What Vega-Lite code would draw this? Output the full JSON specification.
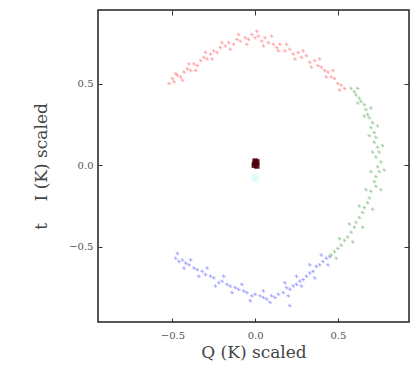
{
  "$schema": "https://vega.github.io/schema/vega-lite/v6.json",
  "width": 311,
  "height": 312,
  "autosize": "none",
  "padding": {"left": 98, "top": 10, "right": 7, "bottom": 48},
  "background": "white",
  "config": {
    "view": {"stroke": "#222", "strokeWidth": 1.5},
    "axis": {"labelFont": "DejaVu Serif", "titleFont": "DejaVu Serif", "labelColor": "#555", "titleColor": "#444", "grid": false, "domain": false, "tickColor": "#333", "tickSize": -4, "tickWidth": 1, "labelFontSize": 10, "titleFontSize": 17, "titleFontWeight": "normal"}
  },
  "datasets": {
    "pts": [
      {"s":"red","q":-0.52,"i":0.50},{"s":"red","q":-0.50,"i":0.53},{"s":"red","q":-0.49,"i":0.51},{"s":"red","q":-0.47,"i":0.55},{"s":"red","q":-0.45,"i":0.54},{"s":"red","q":-0.43,"i":0.57},{"s":"red","q":-0.41,"i":0.59},{"s":"red","q":-0.39,"i":0.58},{"s":"red","q":-0.37,"i":0.62},{"s":"red","q":-0.35,"i":0.61},{"s":"red","q":-0.33,"i":0.64},{"s":"red","q":-0.31,"i":0.66},{"s":"red","q":-0.29,"i":0.65},{"s":"red","q":-0.27,"i":0.68},{"s":"red","q":-0.25,"i":0.70},{"s":"red","q":-0.23,"i":0.69},{"s":"red","q":-0.21,"i":0.72},{"s":"red","q":-0.18,"i":0.73},{"s":"red","q":-0.16,"i":0.75},{"s":"red","q":-0.13,"i":0.74},{"s":"red","q":-0.11,"i":0.77},{"s":"red","q":-0.09,"i":0.76},{"s":"red","q":-0.06,"i":0.78},{"s":"red","q":-0.04,"i":0.77},{"s":"red","q":-0.02,"i":0.80},{"s":"red","q":0.00,"i":0.78},{"s":"red","q":0.02,"i":0.79},{"s":"red","q":0.04,"i":0.76},{"s":"red","q":0.06,"i":0.78},{"s":"red","q":0.08,"i":0.75},{"s":"red","q":0.11,"i":0.74},{"s":"red","q":0.13,"i":0.72},{"s":"red","q":0.15,"i":0.74},{"s":"red","q":0.18,"i":0.70},{"s":"red","q":0.21,"i":0.71},{"s":"red","q":0.23,"i":0.68},{"s":"red","q":0.26,"i":0.69},{"s":"red","q":0.28,"i":0.66},{"s":"red","q":0.31,"i":0.67},{"s":"red","q":0.33,"i":0.63},{"s":"red","q":0.36,"i":0.64},{"s":"red","q":0.38,"i":0.61},{"s":"red","q":0.40,"i":0.60},{"s":"red","q":0.42,"i":0.58},{"s":"red","q":0.44,"i":0.57},{"s":"red","q":0.46,"i":0.54},{"s":"red","q":0.48,"i":0.53},{"s":"red","q":0.50,"i":0.50},{"s":"red","q":0.52,"i":0.49},{"s":"red","q":0.54,"i":0.47},
      {"s":"red","q":-0.48,"i":0.56},{"s":"red","q":-0.44,"i":0.52},{"s":"red","q":-0.40,"i":0.62},{"s":"red","q":-0.36,"i":0.58},{"s":"red","q":-0.30,"i":0.69},{"s":"red","q":-0.26,"i":0.65},{"s":"red","q":-0.20,"i":0.75},{"s":"red","q":-0.15,"i":0.71},{"s":"red","q":-0.10,"i":0.80},{"s":"red","q":-0.05,"i":0.74},{"s":"red","q":0.01,"i":0.82},{"s":"red","q":0.05,"i":0.73},{"s":"red","q":0.10,"i":0.79},{"s":"red","q":0.14,"i":0.70},{"s":"red","q":0.19,"i":0.74},{"s":"red","q":0.24,"i":0.65},{"s":"red","q":0.29,"i":0.70},{"s":"red","q":0.34,"i":0.60},{"s":"red","q":0.39,"i":0.65},{"s":"red","q":0.43,"i":0.54},{"s":"red","q":0.47,"i":0.58},{"s":"red","q":0.51,"i":0.46},
      {"s":"green","q":0.58,"i":0.47},{"s":"green","q":0.60,"i":0.45},{"s":"green","q":0.61,"i":0.43},{"s":"green","q":0.63,"i":0.41},{"s":"green","q":0.64,"i":0.39},{"s":"green","q":0.66,"i":0.37},{"s":"green","q":0.67,"i":0.34},{"s":"green","q":0.68,"i":0.31},{"s":"green","q":0.69,"i":0.29},{"s":"green","q":0.71,"i":0.26},{"s":"green","q":0.70,"i":0.23},{"s":"green","q":0.72,"i":0.20},{"s":"green","q":0.73,"i":0.17},{"s":"green","q":0.72,"i":0.14},{"s":"green","q":0.74,"i":0.11},{"s":"green","q":0.75,"i":0.08},{"s":"green","q":0.73,"i":0.05},{"s":"green","q":0.76,"i":0.02},{"s":"green","q":0.74,"i":-0.01},{"s":"green","q":0.75,"i":-0.04},{"s":"green","q":0.73,"i":-0.07},{"s":"green","q":0.72,"i":-0.10},{"s":"green","q":0.73,"i":-0.13},{"s":"green","q":0.70,"i":-0.16},{"s":"green","q":0.69,"i":-0.20},{"s":"green","q":0.68,"i":-0.23},{"s":"green","q":0.66,"i":-0.26},{"s":"green","q":0.65,"i":-0.29},{"s":"green","q":0.63,"i":-0.32},{"s":"green","q":0.61,"i":-0.35},{"s":"green","q":0.60,"i":-0.38},{"s":"green","q":0.58,"i":-0.41},{"s":"green","q":0.56,"i":-0.44},{"s":"green","q":0.54,"i":-0.46},{"s":"green","q":0.52,"i":-0.49},{"s":"green","q":0.50,"i":-0.51},{"s":"green","q":0.48,"i":-0.53},{"s":"green","q":0.46,"i":-0.55},
      {"s":"green","q":0.62,"i":0.47},{"s":"green","q":0.62,"i":0.38},{"s":"green","q":0.70,"i":0.35},{"s":"green","q":0.66,"i":0.30},{"s":"green","q":0.74,"i":0.24},{"s":"green","q":0.69,"i":0.18},{"s":"green","q":0.77,"i":0.12},{"s":"green","q":0.71,"i":0.08},{"s":"green","q":0.78,"i":-0.03},{"s":"green","q":0.70,"i":-0.04},{"s":"green","q":0.76,"i":-0.15},{"s":"green","q":0.67,"i":-0.15},{"s":"green","q":0.71,"i":-0.27},{"s":"green","q":0.63,"i":-0.25},{"s":"green","q":0.65,"i":-0.38},{"s":"green","q":0.57,"i":-0.36},{"s":"green","q":0.59,"i":-0.47},{"s":"green","q":0.51,"i":-0.45},{"s":"green","q":0.49,"i":-0.57},
      {"s":"blue","q":0.45,"i":-0.56},{"s":"blue","q":0.43,"i":-0.57},{"s":"blue","q":0.41,"i":-0.59},{"s":"blue","q":0.39,"i":-0.61},{"s":"blue","q":0.37,"i":-0.62},{"s":"blue","q":0.35,"i":-0.65},{"s":"blue","q":0.33,"i":-0.66},{"s":"blue","q":0.31,"i":-0.68},{"s":"blue","q":0.29,"i":-0.70},{"s":"blue","q":0.27,"i":-0.71},{"s":"blue","q":0.25,"i":-0.73},{"s":"blue","q":0.23,"i":-0.74},{"s":"blue","q":0.21,"i":-0.76},{"s":"blue","q":0.19,"i":-0.75},{"s":"blue","q":0.17,"i":-0.78},{"s":"blue","q":0.14,"i":-0.79},{"s":"blue","q":0.12,"i":-0.81},{"s":"blue","q":0.10,"i":-0.80},{"s":"blue","q":0.07,"i":-0.82},{"s":"blue","q":0.05,"i":-0.81},{"s":"blue","q":0.03,"i":-0.80},{"s":"blue","q":0.00,"i":-0.79},{"s":"blue","q":-0.02,"i":-0.80},{"s":"blue","q":-0.05,"i":-0.78},{"s":"blue","q":-0.07,"i":-0.77},{"s":"blue","q":-0.10,"i":-0.76},{"s":"blue","q":-0.12,"i":-0.75},{"s":"blue","q":-0.15,"i":-0.74},{"s":"blue","q":-0.17,"i":-0.73},{"s":"blue","q":-0.20,"i":-0.71},{"s":"blue","q":-0.22,"i":-0.72},{"s":"blue","q":-0.25,"i":-0.69},{"s":"blue","q":-0.27,"i":-0.68},{"s":"blue","q":-0.30,"i":-0.67},{"s":"blue","q":-0.32,"i":-0.65},{"s":"blue","q":-0.35,"i":-0.64},{"s":"blue","q":-0.37,"i":-0.63},{"s":"blue","q":-0.40,"i":-0.61},{"s":"blue","q":-0.42,"i":-0.60},{"s":"blue","q":-0.44,"i":-0.58},{"s":"blue","q":-0.46,"i":-0.59},{"s":"blue","q":-0.48,"i":-0.57},
      {"s":"blue","q":0.44,"i":-0.61},{"s":"blue","q":0.40,"i":-0.55},{"s":"blue","q":0.36,"i":-0.69},{"s":"blue","q":0.33,"i":-0.61},{"s":"blue","q":0.28,"i":-0.74},{"s":"blue","q":0.25,"i":-0.68},{"s":"blue","q":0.20,"i":-0.80},{"s":"blue","q":0.18,"i":-0.72},{"s":"blue","q":0.21,"i":-0.86},{"s":"blue","q":0.09,"i":-0.84},{"s":"blue","q":0.05,"i":-0.77},{"s":"blue","q":-0.03,"i":-0.83},{"s":"blue","q":-0.08,"i":-0.73},{"s":"blue","q":-0.14,"i":-0.78},{"s":"blue","q":-0.19,"i":-0.68},{"s":"blue","q":-0.24,"i":-0.74},{"s":"blue","q":-0.29,"i":-0.63},{"s":"blue","q":-0.34,"i":-0.68},{"s":"blue","q":-0.39,"i":-0.58},{"s":"blue","q":-0.43,"i":-0.63},{"s":"blue","q":-0.47,"i":-0.54}
    ],
    "center": [
      {"q":0.0,"i":0.01},{"q":0.01,"i":0.02},{"q":-0.005,"i":0.0},{"q":0.01,"i":-0.005},{"q":0.0,"i":0.025}
    ],
    "halo": [
      {"q":0.0,"i":-0.07},{"q":0.01,"i":-0.09},{"q":-0.01,"i":-0.08}
    ]
  },
  "layer": [
    {
      "data": {"name": "pts"},
      "mark": {"type": "point", "shape": "M-1,0L1,0M0,-1L0,1M-0.7,-0.7L0.7,0.7", "filled": false, "strokeWidth": 0.6, "size": 14, "opacity": 0.5},
      "encoding": {
        "x": {"field": "q", "type": "quantitative", "scale": {"domain": [-0.95, 0.93], "nice": false, "zero": false},
              "axis": {"values": [-0.5, 0, 0.5], "format": ".1f", "title": "Q (K) scaled", "labelPadding": 12, "titlePadding": 4}},
        "y": {"field": "i", "type": "quantitative", "scale": {"domain": [-0.96, 0.95], "nice": false, "zero": false},
              "axis": {"values": [-0.5, 0, 0.5], "format": ".1f", "title": "t\u00a0\u00a0\u00a0\u00a0I (K) scaled", "labelPadding": 9, "titlePadding": 18}},
        "color": {"field": "s", "type": "nominal", "scale": {"domain": ["red", "green", "blue"], "range": ["#ff2020", "#1a8a1a", "#2020ff"]}, "legend": null}
      }
    },
    {
      "data": {"name": "halo"},
      "mark": {"type": "circle", "size": 50, "color": "#bff4f4", "opacity": 0.25},
      "encoding": {
        "x": {"field": "q", "type": "quantitative", "axis": {"orient": "top", "values": [-0.5, 0, 0.5], "labels": false, "title": null, "tickSize": -5}},
        "y": {"field": "i", "type": "quantitative", "axis": {"orient": "right", "values": [-0.5, 0, 0.5], "labels": false, "title": null, "tickSize": -5}}
      }
    },
    {
      "data": {"name": "center"},
      "mark": {"type": "square", "size": 30, "color": "#4a0010", "opacity": 0.9},
      "encoding": {
        "x": {"field": "q", "type": "quantitative", "axis": null},
        "y": {"field": "i", "type": "quantitative", "axis": null}
      }
    }
  ],
  "resolve": {"axis": {"x": "independent", "y": "independent"}}
}
